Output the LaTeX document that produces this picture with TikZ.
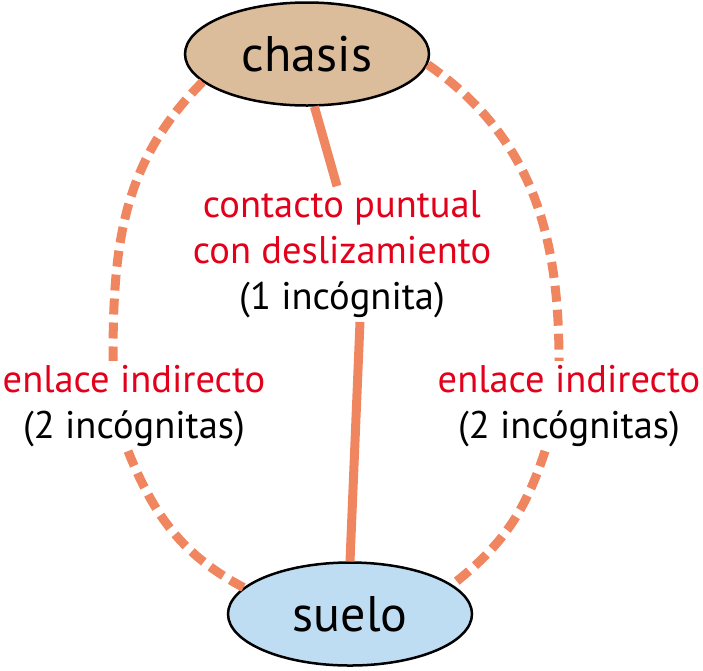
\documentclass[tikz,border=0pt]{standalone}
\usepackage{fontspec}
\setmainfont{PT Sans}
\usetikzlibrary{shapes.geometric}

\definecolor{linea}{RGB}{239,134,96}
\definecolor{rojo}{RGB}{227,0,27}
\definecolor{marron}{RGB}{219,188,155}
\definecolor{celeste}{RGB}{190,221,242}

\tikzset{
  pieza/.style={ellipse,draw,line width=2.5pt,minimum width=244pt,minimum height=103pt,
    inner sep=0pt,font=\fontsize{50}{58}\selectfont},
  rotulo/.style={align=center,inner sep=4pt,font=\fontsize{38.5}{46}\selectfont},
  enlace/.style={line width=9pt,color=linea},
  indirecto/.style={enlace,dash pattern=on 16pt off 8pt}
}

\begin{document}
\begin{tikzpicture}[x=1pt,y=1pt]
\useasboundingbox (0,0) rectangle (703,-670);
% piezas
\node[pieza,fill=marron] (chasis) at (307,-54) {chasis};
\node[pieza,fill=celeste] (suelo) at (350,-614) {suelo};
% rotulos
\node[rotulo] (contacto) at (342,-254) {\textcolor{rojo}{contacto puntual}\\
\textcolor{rojo}{con deslizamiento}\\(1 incógnita)};
\node[rotulo] (izq) at (134,-406) {\textcolor{rojo}{enlace indirecto}\\(2 incógnitas)};
\node[rotulo] (der) at (569,-406) {\textcolor{rojo}{enlace indirecto}\\(2 incógnitas)};
% enlaces
\draw[enlace] (chasis.-82) -- ([xshift=-5pt]contacto.north);
\draw[enlace] ([xshift=18pt]contacto.south) -- (suelo.north);
\draw[indirecto] (chasis.195) to[out=225,in=90] ([xshift=-21pt]izq.north);
\draw[indirecto] ([xshift=-6pt]izq.south) to[out=-68,in=152] (suelo.166);
\draw[indirecto] (chasis.-5) to[out=-35,in=90] ([xshift=-10pt]der.north);
\draw[indirecto] ([xshift=-24pt]der.south) to[out=252,in=38] (suelo.16);
\end{tikzpicture}
\end{document}
